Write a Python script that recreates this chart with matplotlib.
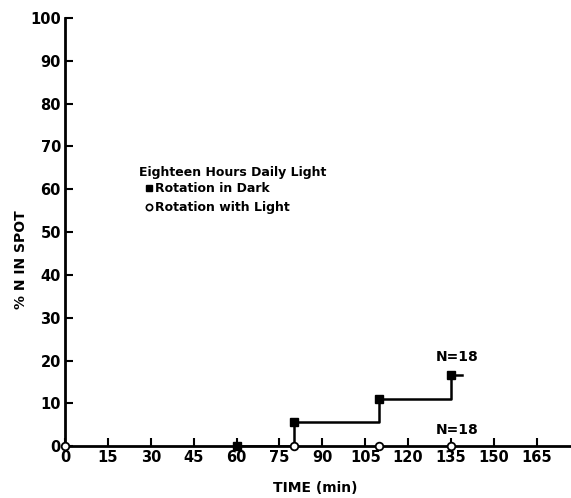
import matplotlib
matplotlib.use("Agg")
import matplotlib.pyplot as plt

plt.rcParams['font.family'] = ['DejaVu Sans']

# Data
dark_time = [60, 80, 110, 135]
dark_pct = [0, 5.6, 11.1, 16.7]
light_time = [0, 80, 110, 135]
light_pct = [0, 0, 0, 0]
x_ticks = [0, 15, 30, 45, 60, 75, 90, 105, 120, 135, 150, 165]
y_ticks = [0, 10, 20, 30, 40, 50, 60, 70, 80, 90, 100]

fig = plt.figure(figsize=(5.71, 4.98), dpi=100)
ax = fig.add_axes([0.114, 0.104, 0.886, 0.86])

ax.set_xlim(0, 177)
ax.set_ylim(0, 100)

# dark series step line
ax.plot(dark_time, dark_pct, drawstyle='steps-post', color='black', lw=1.8, zorder=3)
ax.plot([dark_time[-1], dark_time[-1] + 4], [dark_pct[-1], dark_pct[-1]], color='black', lw=1.8)
ax.plot(dark_time, dark_pct, 's', color='black', ms=6, zorder=4, clip_on=False)
ax.plot(light_time, light_pct, 'o', mfc='white', mec='black', mew=1.3, ms=5.5, zorder=5, clip_on=False)

for s in ['top', 'right']:
    ax.spines[s].set_visible(False)
for s in ['left', 'bottom']:
    ax.spines[s].set_linewidth(2)

ax.set_xticks(x_ticks)
ax.set_yticks(y_ticks)
ax.set_xticklabels([str(v) for v in x_ticks], fontsize=10.5, fontweight='bold')
ax.set_yticklabels([str(v) for v in y_ticks], fontsize=10.5, fontweight='bold')
ax.tick_params(axis='both', direction='in', length=6, width=1.5, pad=3)

fig.text(0.552, 0.02, 'TIME (min)', fontsize=10, fontweight='bold', ha='center', va='center')
fig.text(0.037, 0.478, '% N IN SPOT', fontsize=10, fontweight='bold', ha='center', va='center', rotation=90)

# legend text
ax.text(26, 64, 'Eighteen Hours Daily Light', fontsize=9, fontweight='bold', va='center')
ax.plot([29.5], [60.2], 's', color='black', ms=4.5, clip_on=False)
ax.text(31.5, 60.2, 'Rotation in Dark', fontsize=9, fontweight='bold', va='center')
ax.plot([29.5], [55.8], 'o', mfc='white', mec='black', mew=1.2, ms=4.5)
ax.text(31.5, 55.8, 'Rotation with Light', fontsize=9, fontweight='bold', va='center')

ax.text(137, 20.8, 'N=18', fontsize=10, fontweight='bold', ha='center', va='center')
ax.text(137, 3.8, 'N=18', fontsize=10, fontweight='bold', ha='center', va='center')

fig.savefig('out.png', dpi=100)
